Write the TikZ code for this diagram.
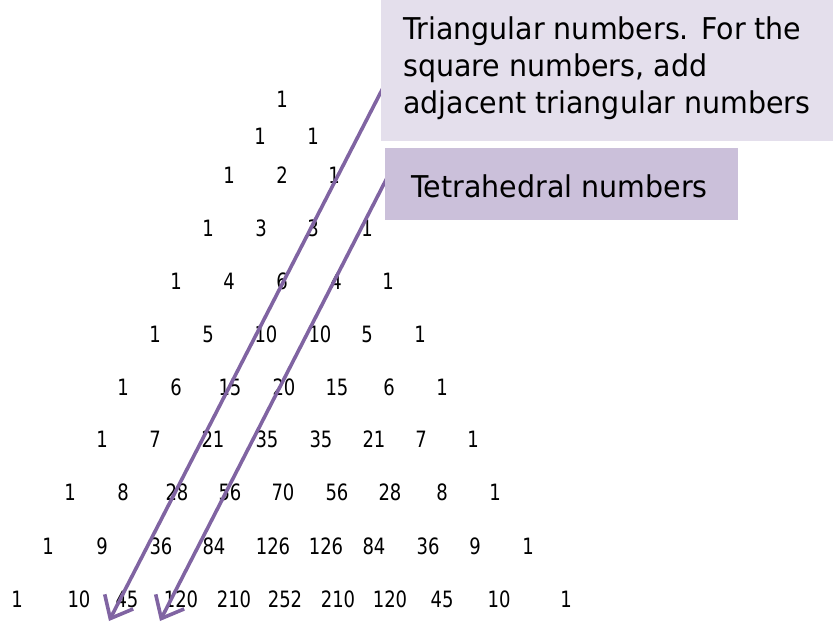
\documentclass[tikz,border=0pt]{standalone}
\usepackage{fontspec}
\setmainfont[FakeStretch=0.95]{DejaVu Sans}
\newfontfamily\numfont[FakeStretch=0.8]{DejaVu Sans}
\usetikzlibrary{arrows.meta}
\definecolor{arrowpurple}{HTML}{8064A2}
\definecolor{boxlight}{HTML}{E4DFEC}
\definecolor{boxdark}{HTML}{CBC0DA}
\begin{document}
\begin{tikzpicture}[x=1pt,y=-1pt,
  num/.style={inner sep=0pt,font=\numfont\fontsize{22.5}{24}\selectfont},
  callout/.style={inner sep=0pt,font=\fontsize{30}{37}\selectfont,align=left,text=black},
  pointer/.style={draw=arrowpurple,line width=3.6pt,-{Straight Barb[length=19pt,width=32pt,line width=3.6pt]}}]
\useasboundingbox (0,0) rectangle (833,625);
% row 0
\node[num] (n00) at (282,99) {1};
% row 1
\node[num] (n10) at (260,136) {1};
\node[num] (n11) at (313,136) {1};
% row 2
\node[num] (n20) at (229,175) {1};
\node[num] (n21) at (282,175) {2};
\node[num] (n22) at (334,175) {1};
% row 3
\node[num] (n30) at (208,228) {1};
\node[num] (n31) at (261,228) {3};
\node[num] (n32) at (313,228) {3};
\node[num] (n33) at (367,228) {1};
% row 4
\node[num] (n40) at (176,281) {1};
\node[num] (n41) at (229,281) {4};
\node[num] (n42) at (282,281) {6};
\node[num] (n43) at (336,281) {4};
\node[num] (n44) at (388,281) {1};
% row 5
\node[num] (n50) at (155,334) {1};
\node[num] (n51) at (208,334) {5};
\node[num] (n52) at (266,334) {10};
\node[num] (n53) at (320,334) {10};
\node[num] (n54) at (367,334) {5};
\node[num] (n55) at (420,334) {1};
% row 6
\node[num] (n60) at (123,387) {1};
\node[num] (n61) at (176,387) {6};
\node[num] (n62) at (230,387) {15};
\node[num] (n63) at (284,387) {20};
\node[num] (n64) at (337,387) {15};
\node[num] (n65) at (389,387) {6};
\node[num] (n66) at (442,387) {1};
% row 7
\node[num] (n70) at (102,439) {1};
\node[num] (n71) at (155,439) {7};
\node[num] (n72) at (213,439) {21};
\node[num] (n73) at (267,439) {35};
\node[num] (n74) at (321,439) {35};
\node[num] (n75) at (374,439) {21};
\node[num] (n76) at (421,439) {7};
\node[num] (n77) at (473,439) {1};
% row 8
\node[num] (n80) at (70,492) {1};
\node[num] (n81) at (123,492) {8};
\node[num] (n82) at (177,492) {28};
\node[num] (n83) at (230,492) {56};
\node[num] (n84) at (283,492) {70};
\node[num] (n85) at (337,492) {56};
\node[num] (n86) at (390,492) {28};
\node[num] (n87) at (442,492) {8};
\node[num] (n88) at (495,492) {1};
% row 9
\node[num] (n90) at (48,546) {1};
\node[num] (n91) at (102,546) {9};
\node[num] (n92) at (161,546) {36};
\node[num] (n93) at (214,546) {84};
\node[num] (n94) at (273,546) {126};
\node[num] (n95) at (326,546) {126};
\node[num] (n96) at (374,546) {84};
\node[num] (n97) at (428,546) {36};
\node[num] (n98) at (475,546) {9};
\node[num] (n99) at (528,546) {1};
% row 10
\node[num] (nA0) at (17,599) {1};
\node[num] (nA1) at (79,599) {10};
\node[num] (nA2) at (127,599) {45};
\node[num] (nA3) at (181,599) {120};
\node[num] (nA4) at (234,599) {210};
\node[num] (nA5) at (285,599) {252};
\node[num] (nA6) at (338,599) {210};
\node[num] (nA7) at (390,599) {120};
\node[num] (nA8) at (442,599) {45};
\node[num] (nA9) at (499,599) {10};
\node[num] (nAA) at (566,599) {1};
% pointers
\coordinate (t1) at (385,84);
\coordinate (h1) at (109,621);
\coordinate (t2) at (389,174);
\coordinate (h2) at (160,621);
\draw[pointer] (t1) -- (h1);
\draw[pointer] (t2) -- (h2);
% callout boxes
\fill[boxlight] (381,0) rectangle (833,141);
\node[callout,anchor=north west] (tri) at (403,17) {Triangular numbers. For the\\square numbers, add\\adjacent triangular numbers};
\fill[boxdark] (385,148) rectangle (738,220);
\node[callout,anchor=west] (tet) at (411,186) {Tetrahedral numbers};
\end{tikzpicture}
\end{document}
